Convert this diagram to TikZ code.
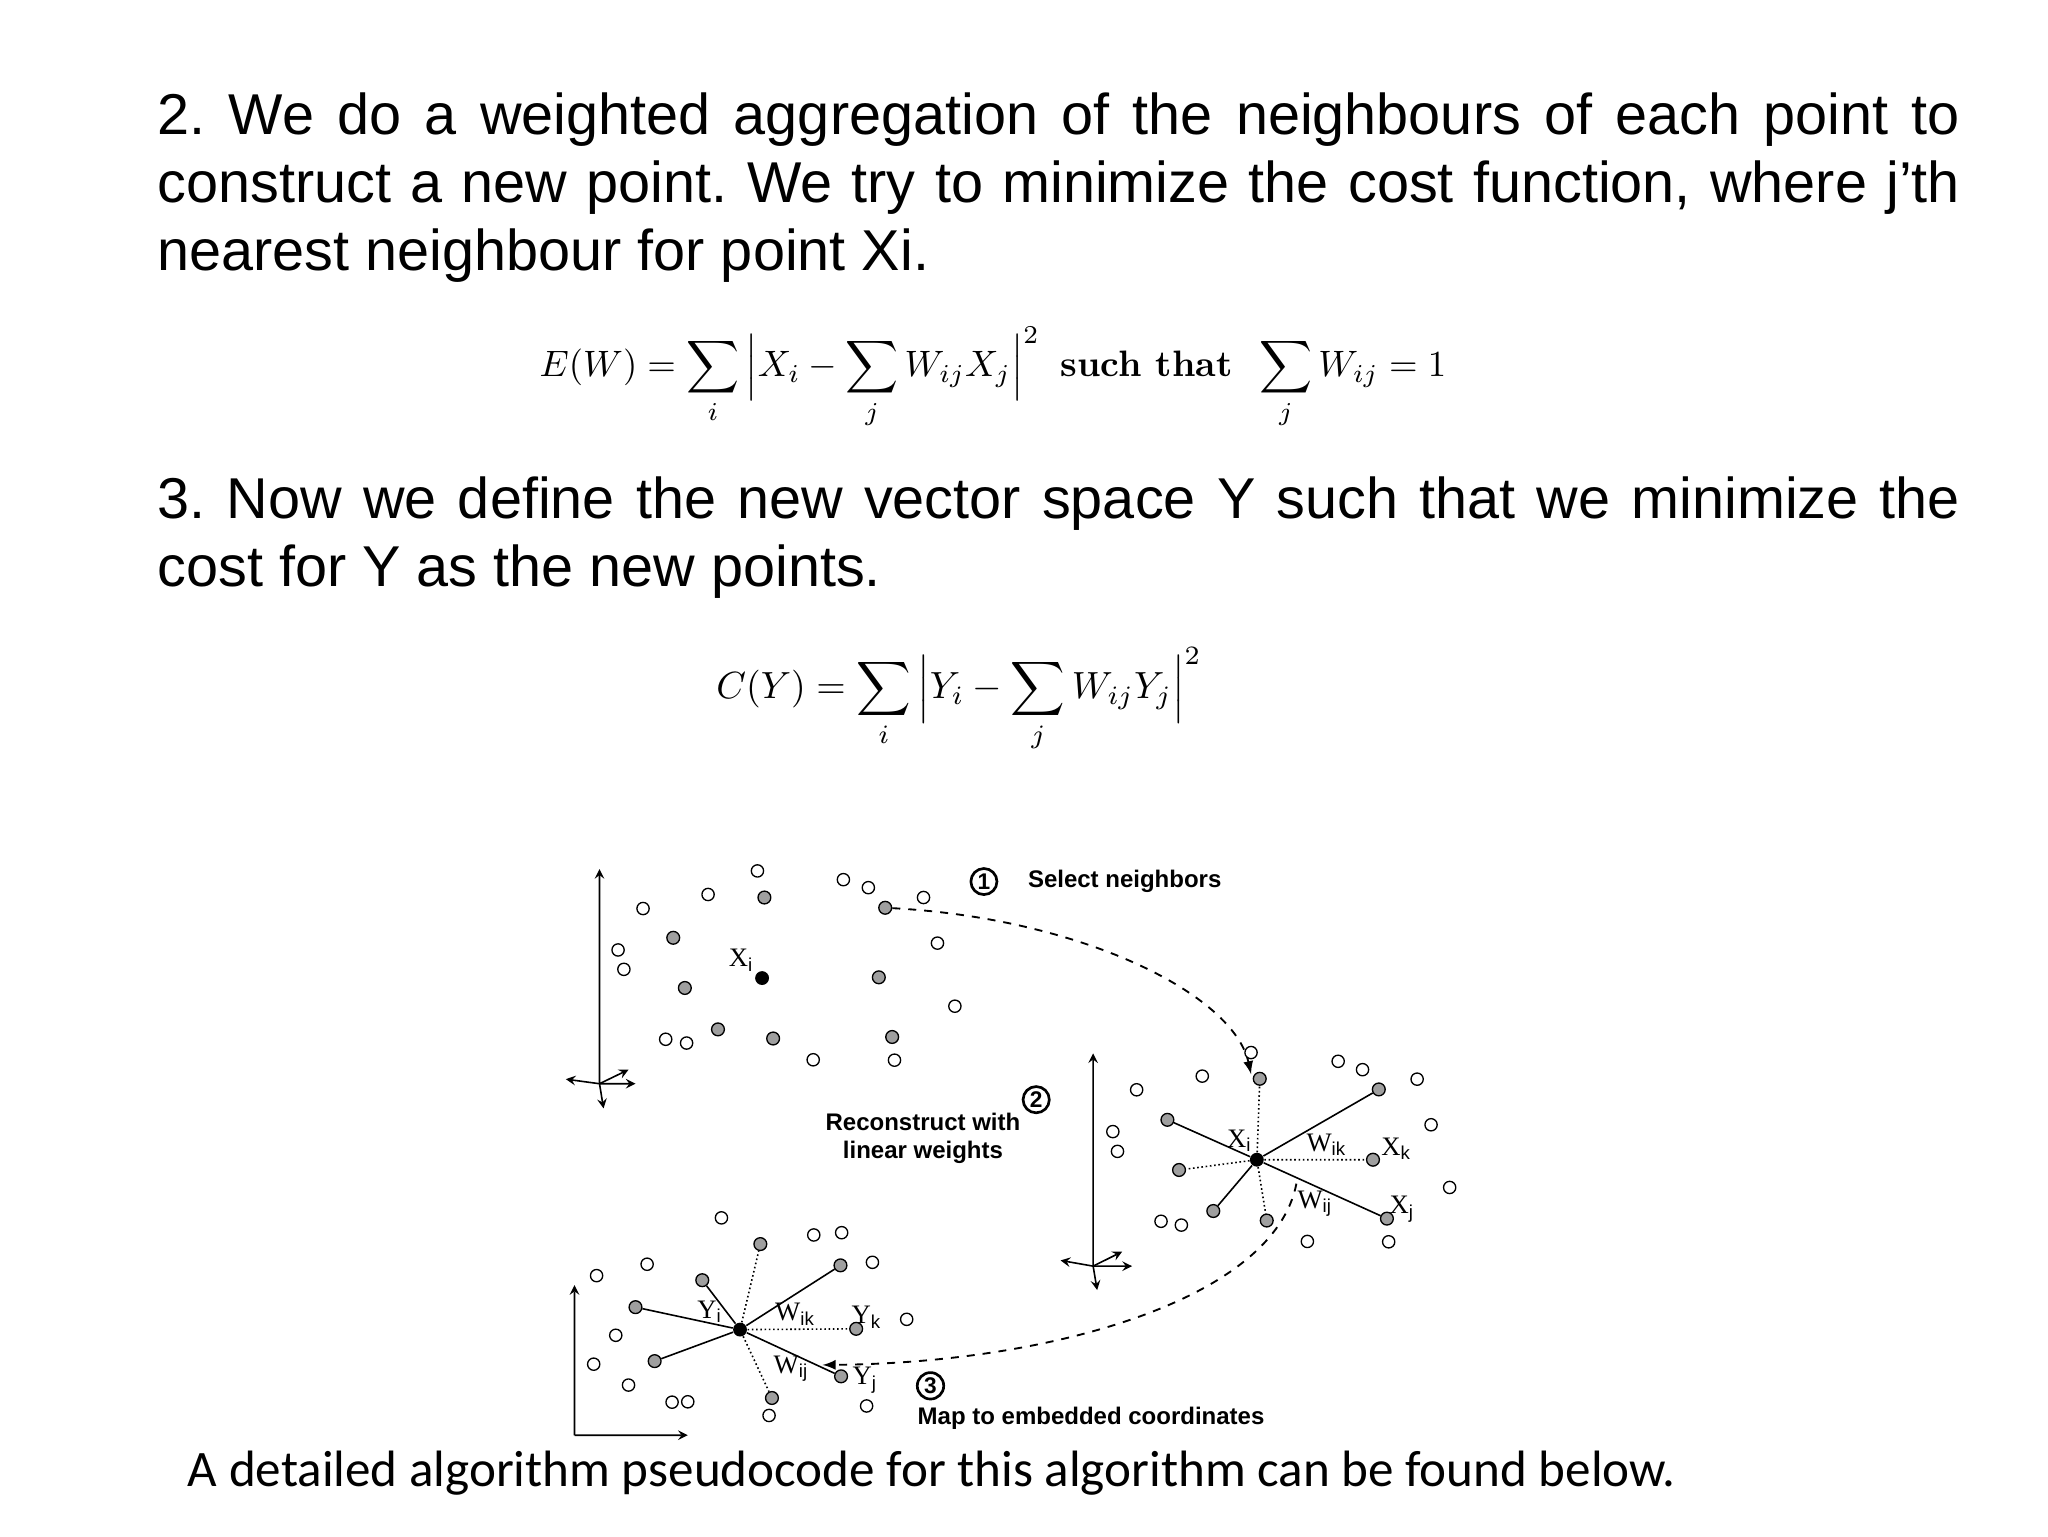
\documentclass[tikz,border=0pt]{standalone}
\usepackage{fontspec}
\setmainfont{Liberation Sans}
\newfontfamily\serf{Liberation Serif}
\newfontfamily\lmr{Latin Modern Roman}
\newfontfamily\calib{Carlito}
\usepackage{amsmath}
\begin{document}
\begin{tikzpicture}[x=0.375pt,y=-0.375pt,
  oc/.style={circle,draw=black,line width=0.5pt,fill=white,inner sep=0pt,minimum size=4.6pt},
  gc/.style={circle,draw=black,line width=0.5pt,fill=gray!75,inner sep=0pt,minimum size=4.8pt},
  bc/.style={circle,fill=black,inner sep=0pt,minimum size=5.2pt},
  lab/.style={font=\serf\fontsize{10}{10}\selectfont,inner sep=0pt},
  bold/.style={font=\bfseries\fontsize{9}{10.5}\selectfont,inner sep=0pt},
  num/.style={circle,draw,line width=1pt,inner sep=0.8pt,font=\bfseries\fontsize{8.5}{8.5}\selectfont},
  sl/.style={line width=0.6pt},
  dl/.style={line width=0.6pt,densely dotted},
  arr/.style={line width=0.7pt,dashed,-latex},
  ax/.style={line width=0.6pt,-stealth},
  para/.style={anchor=north west,inner sep=0pt,text width=676pt,align=justify,font=\fontsize{21.6}{25.5}\selectfont}]
\useasboundingbox (0,0) rectangle (2048,1536);
\node[para] (p2) at (157,92)
 {\frenchspacing\lefthyphenmin=62 \hyphenpenalty=10000 2. We do a weighted aggregation of the neighbours of each point to construct a new point. We try to minimize the cost function, where j'th nearest neighbour for point Xi.};
\node (e1) at (993,378) {\resizebox{340pt}{!}{$\displaystyle E(W)=\sum_i \Big|X_i-\sum_j W_{ij}X_j\Big|^2 \;\;\text{\lmr\bfseries such that}\;\; \sum_j W_{ij}=1$}};
\node[para] (p3) at (157,476)
 {\frenchspacing\lefthyphenmin=62 \hyphenpenalty=10000 3. Now we define the new vector space Y such that we minimize the cost for Y as the new points.};
\node (e2) at (959,700) {\resizebox{182pt}{!}{$\displaystyle C(Y)=\sum_i \Big|Y_i-\sum_j W_{ij}Y_j\Big|^2$}};
\node (cap) at (932,1473) {\resizebox{558pt}{!}{\calib A detailed algorithm pseudocode for this algorithm can be found below.}};
\begin{scope}[shift={(560,850)},xscale=0.5807,yscale=0.38]
% top axes
\coordinate (o1) at (68,615);
\draw[ax] (o1) -- (68,50); \draw[ax] (o1) -- (130,615); \draw[ax] (o1) -- (10,603);
\draw[ax] (o1) -- (118,578); \draw[ax] (o1) -- (75,680);
\foreach \p in {(340,55),(255,117),(143,154),(488,78),(531,99),(626,125),(650,245),(100,263),(110,314),(680,411),(182,498),(218,508),(436,552),(576,553)} \node[oc] at \p {};
\foreach \p in {(352,125),(195,231),(215,363),(549,335),(272,472),(367,496),(572,492)} \node[gc] at \p {};
\node[gc] (tg) at (560,152) {};
\node[bc] (xi1) at (348,337) {};
\node[lab] (lxi1) at (312,290) {X$_\mathrm{i}$};
\node[num] (n1) at (730,83) {1};
\node[bold,anchor=west] (t1) at (805,83) {Select neighbors};
% middle axes
\coordinate (o2) at (918,1095);
\draw[ax] (o2) -- (918,535); \draw[ax] (o2) -- (985,1095); \draw[ax] (o2) -- (862,1080);
\draw[ax] (o2) -- (968,1057); \draw[ax] (o2) -- (925,1158);
\foreach \p in {(1190,533),(1340,556),(1382,578),(1476,603),(1106,595),(993,631),(1500,723),(952,741),(960,793),(1532,888),(1035,977),(1070,987),(1287,1030),(1427,1031)} \node[oc] at \p {};
\node[bc] (xi2) at (1200,815) {};
\node[gc] (m1) at (1205,602) {}; \node[gc] (m2) at (1410,630) {};
\node[gc] (m3) at (1046,710) {}; \node[gc] (m4) at (1066,842) {};
\node[gc] (m5) at (1400,815) {}; \node[gc] (m6) at (1125,950) {};
\node[gc] (m7) at (1217,975) {}; \node[gc] (m8) at (1424,970) {};
\draw[dl] (xi2) -- (m1); \draw[sl] (xi2) -- (m2); \draw[sl] (xi2) -- (m3);
\draw[dl] (xi2) -- (m4); \draw[dl] (xi2) -- (m5); \draw[sl] (xi2) -- (m6);
\draw[dl] (xi2) -- (m7); \draw[sl] (xi2) -- (m8);
\node[lab] (lxi2) at (1170,765) {X$_\mathrm{i}$};
\node[lab] (lwik) at (1320,775) {W$_\mathrm{ik}$};
\node[lab] (lxk) at (1440,787) {X$_\mathrm{k}$};
\node[lab] (lwij) at (1300,930) {W$_\mathrm{ij}$};
\node[lab] (lxj) at (1450,945) {X$_\mathrm{j}$};
\node[num] (n2) at (820,657) {2};
\node[bold,align=center] (t2) at (625,760) {Reconstruct with\\linear weights};
% bottom axes
\coordinate (o3) at (25,1540);
\draw[ax] (o3) -- (25,1145); \draw[ax] (o3) -- (220,1540);
\foreach \p in {(278,968),(437,1013),(485,1007),(538,1085),(150,1090),(63,1120),(597,1235),(96,1277),(58,1353),(118,1408),(193,1453),(220,1452),(360,1488),(528,1463)} \node[oc] at \p {};
\node[bc] (yi) at (310,1262) {};
\node[gc] (b1) at (345,1037) {}; \node[gc] (b2) at (483,1093) {};
\node[gc] (b3) at (245,1132) {}; \node[gc] (b4) at (130,1203) {};
\node[gc] (b5) at (510,1260) {}; \node[gc] (b6) at (163,1345) {};
\node[gc] (b7) at (484,1385) {}; \node[gc] (b8) at (365,1442) {};
\draw[dl] (yi) -- (b1); \draw[sl] (yi) -- (b2); \draw[sl] (yi) -- (b3);
\draw[sl] (yi) -- (b4); \draw[dl] (yi) -- (b5); \draw[sl] (yi) -- (b6);
\draw[sl] (yi) -- (b7); \draw[dl] (yi) -- (b8);
\node[lab] (lyi) at (258,1215) {Y$_\mathrm{i}$};
\node[lab] (lwik2) at (405,1222) {W$_\mathrm{ik}$};
\node[lab] (lyk) at (528,1230) {Y$_\mathrm{k}$};
\node[lab] (lwij2) at (398,1365) {W$_\mathrm{ij}$};
\node[lab] (lyj) at (525,1395) {Y$_\mathrm{j}$};
\node[num] (n3) at (638,1410) {3};
\node[bold,anchor=west] (t3) at (615,1495) {Map to embedded coordinates};
% dashed arrows
\coordinate (a1) at (1190,590);
\draw[arr] (tg) .. controls (900,180) and (1160,380) .. (a1);
\coordinate (s2) at (1268,878);
\coordinate (a2) at (452,1355);
\draw[arr] (s2) .. controls (1230,1180) and (850,1350) .. (a2);
\end{scope}
\end{tikzpicture}
\end{document}
